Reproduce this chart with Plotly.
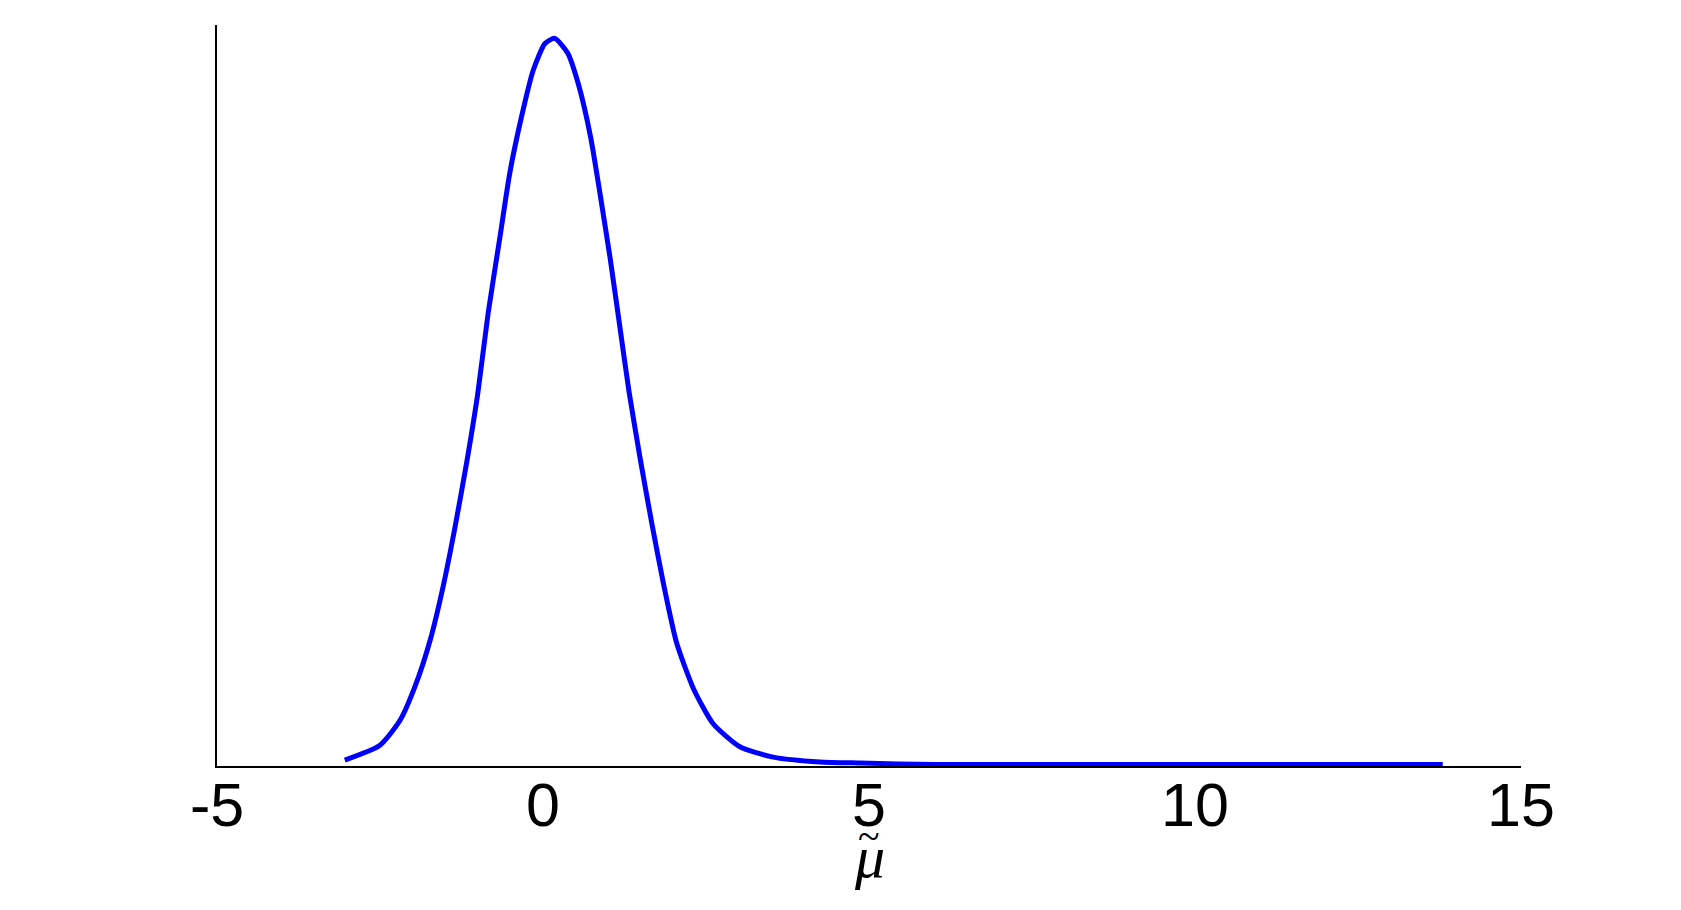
import plotly.graph_objects as go

# Curve (x = mu tilde, y = relative density)
mu_vals = [-3.04, -2.50, -2.19, -1.96, -1.73, -1.53, -1.35, -1.17, -1.00, -0.84,
           -0.66, -0.51, -0.33, -0.15, 0.03, 0.18, 0.38, 0.54, 0.73, 0.87,
           1.03, 1.18, 1.32, 1.49, 1.67, 1.85, 2.05, 2.31, 2.61, 3.02,
           3.53, 4.25, 4.86, 6.0, 8.0, 10.0, 12.0, 13.8]
density_vals = [0.008, 0.028, 0.062, 0.108, 0.170, 0.243, 0.322, 0.410, 0.503, 0.612,
                0.714, 0.800, 0.876, 0.939, 0.975, 0.982, 0.962, 0.921, 0.849, 0.775,
                0.685, 0.592, 0.505, 0.415, 0.327, 0.245, 0.166, 0.104, 0.057, 0.026,
                0.012, 0.0054, 0.004, 0.002, 0.002, 0.002, 0.002, 0.002]

x_tick_vals = [-5, 0, 5, 10, 15]
x_tick_text = ["-5", "0", "5", "10", "15"]
x_label = "μ"
x_label_accent = "~"

fig = go.Figure()
fig.add_trace(go.Scatter(
    x=mu_vals, y=density_vals, mode="lines",
    line=dict(color="#0000FF", width=5, shape="spline", smoothing=0.6),
    showlegend=False, hoverinfo="skip",
))

fig.update_layout(
    width=1681, height=910,
    margin=dict(l=209, r=168, t=17, b=152),
    paper_bgcolor="white", plot_bgcolor="white",
    showlegend=False,
)
fig.update_xaxes(
    range=[-5, 15], tickvals=x_tick_vals, ticktext=x_tick_text,
    showgrid=False, zeroline=False, showline=True, linecolor="black", linewidth=1.5,
    ticks="", tickfont=dict(family="Arial, Liberation Sans, sans-serif", size=61, color="black"),
    ticklabelstandoff=-15,
)
fig.update_yaxes(
    range=[0, 1], showgrid=False, zeroline=False, showline=True,
    linecolor="black", linewidth=1.5, ticks="", showticklabels=False,
)
fig.add_annotation(
    text="<i>" + x_label + "</i>", xref="paper", yref="paper",
    x=0.5, y=-0.123, xanchor="center", yanchor="middle", showarrow=False,
    font=dict(family="Liberation Serif, Times New Roman, serif", size=60, color="black"),
)
fig.add_annotation(
    text=x_label_accent, xref="paper", yref="paper",
    x=0.5, y=-0.0956, xanchor="center", yanchor="middle", showarrow=False,
    font=dict(family="Liberation Serif, Times New Roman, serif", size=40, color="black"),
)

fig.write_html("out.html")
